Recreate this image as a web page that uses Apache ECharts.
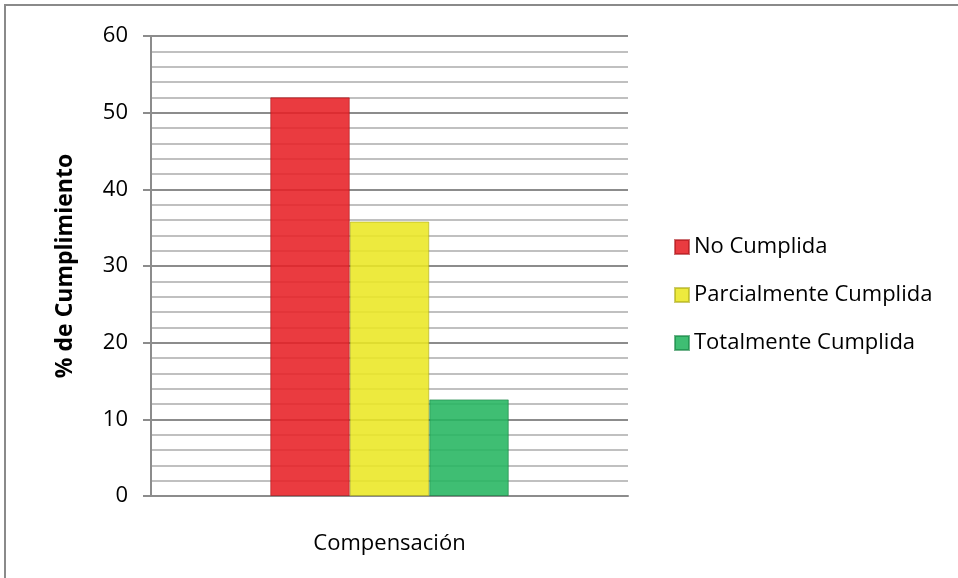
<!DOCTYPE html>
<html>
<head>
<meta charset="utf-8">
<script src="https://cdn.jsdelivr.net/npm/echarts@6/dist/echarts.min.js"></script>
<style>
  html, body { margin: 0; padding: 0; background: #fff; }
  #chart { width: 958px; height: 578px; }
</style>
</head>
<body>
<div id="chart"></div>
<script>
// Chart data
var categories = ['Compensación'];
var seriesNames = ['No Cumplida', 'Parcialmente Cumplida', 'Totalmente Cumplida'];
var noCumplida = [52];
var parcialmenteCumplida = [35.8];
var totalmenteCumplida = [12.6];
var yTicks = { min: 0, max: 60, interval: 10 };

var fontFamily = '"Open Sans", Lato, sans-serif';
var barColors = ['rgba(231,32,38,0.88)', 'rgba(234,231,35,0.88)', 'rgba(36,181,96,0.88)'];
var barEdges = ['rgba(170,20,25,0.6)', 'rgba(170,168,20,0.6)', 'rgba(20,130,65,0.6)'];
var seriesValues = [noCumplida, parcialmenteCumplida, totalmenteCumplida];

var chart = echarts.init(document.getElementById('chart'), null, { renderer: 'canvas' });

var series = seriesNames.map(function (name, i) {
  return {
    name: name,
    type: 'bar',
    data: seriesValues[i],
    barGap: '0%',
    barCategoryGap: '50%',
    itemStyle: {
      color: barColors[i],
      borderColor: barEdges[i],
      borderWidth: 1
    }
  };
});

chart.setOption({
  animation: false,
  backgroundColor: '#ffffff',
  graphic: [{
    type: 'rect',
    shape: { x: 5, y: 5, width: 1100, height: 800 },
    style: { fill: 'none', stroke: '#8a8a8a', lineWidth: 2 },
    silent: true
  }],
  grid: { left: 151, right: 330, top: 36, bottom: 82 },
  legend: {
    orient: 'vertical',
    left: 669,
    top: 231,
    itemWidth: 14,
    itemHeight: 14,
    itemGap: 26,
    icon: 'rect',
    textStyle: { fontFamily: fontFamily, fontSize: 22, color: '#000' },
    data: seriesNames
  },
  xAxis: {
    type: 'category',
    data: categories,
    axisLine: { show: true, lineStyle: { color: '#8c8c8c', width: 2 } },
    axisTick: { show: false },
    axisLabel: { margin: 37, fontFamily: fontFamily, fontSize: 22, color: '#000' }
  },
  yAxis: {
    type: 'value',
    min: yTicks.min,
    max: yTicks.max,
    interval: yTicks.interval,
    name: '% de Cumplimiento',
    nameLocation: 'middle',
    nameGap: 74,
    nameTextStyle: { fontFamily: fontFamily, fontSize: 23, fontWeight: 'bold', color: '#000' },
    axisLine: { show: true, lineStyle: { color: '#8c8c8c', width: 2 } },
    axisTick: { show: true, length: 8, lineStyle: { color: '#8c8c8c', width: 2 } },
    axisLabel: { margin: 23, fontFamily: fontFamily, fontSize: 22, color: '#000' },
    splitLine: { show: true, lineStyle: { color: '#8c8c8c', width: 2 } },
    minorTick: { show: false, splitNumber: 5 },
    minorSplitLine: { show: true, lineStyle: { color: '#c0c0c0', width: 2 } }
  },
  series: series
});
</script>
</body>
</html>
